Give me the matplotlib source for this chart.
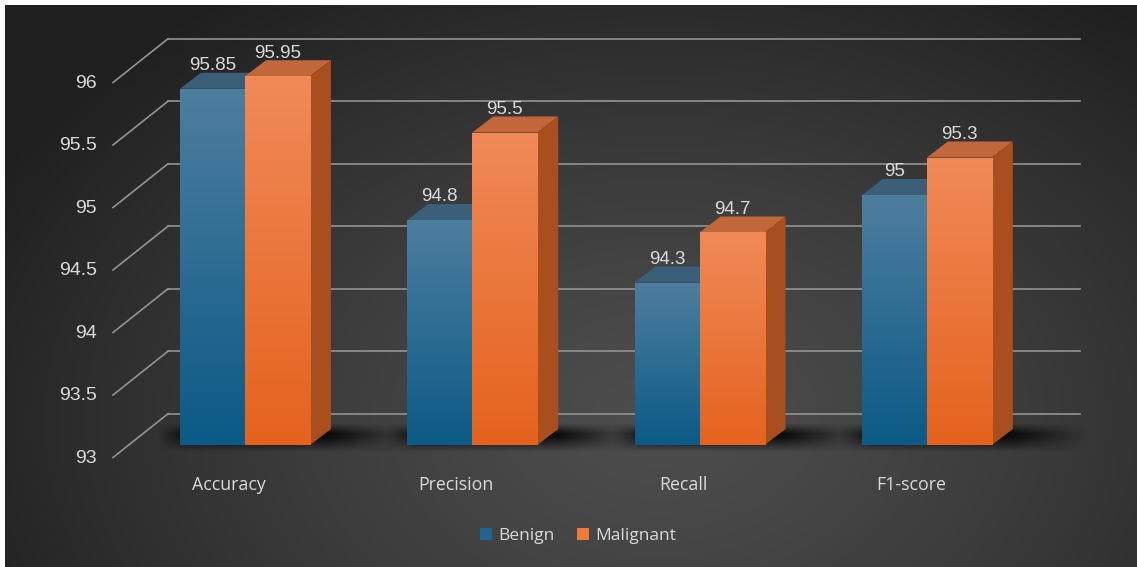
import numpy as np
import matplotlib
matplotlib.use("Agg")
import matplotlib.pyplot as plt
from matplotlib.patches import Polygon, Patch, Rectangle

# ---------------- data ----------------
categories = ["Accuracy", "Precision", "Recall", "F1-score"]
benign = [95.85, 94.8, 94.3, 95.0]
malignant = [95.95, 95.5, 94.7, 95.3]
benign_labels = ["95.85", "94.8", "94.3", "95"]
malignant_labels = ["95.95", "95.5", "94.7", "95.3"]
yticks = [93, 93.5, 94, 94.5, 95, 95.5, 96]
series_names = ["Benign", "Malignant"]

# ---------------- style ----------------
W, H, DPI = 1137, 567, 100
BASE = 93.0
bar_w = 0.286
dx, dy = 0.092, 0.128          # 3D depth offset of bars (data units)
wall_dy = 0.25                 # back wall offset
floor_dx, floor_dy = -0.242, -0.35
txt = "#dadada"
grid_c = "#939393"

blue_top, blue_bot = np.array([78, 126, 158]) / 255, np.array([11, 90, 135]) / 255
org_top, org_bot = np.array([240, 138, 88]) / 255, np.array([229, 98, 30]) / 255
blue_cap, org_cap = "#3b5f79", "#c2663b"
org_side = "#a94f1f"

fig = plt.figure(figsize=(W / DPI, H / DPI), dpi=DPI)
fig.patch.set_facecolor("#2b2b2b")

# background radial gradient
bg = fig.add_axes([0, 0, 1, 1])
yy, xx = np.mgrid[0:H, 0:W]
d = np.sqrt(((xx - 660) / 760.0) ** 2 + ((yy - 420) / 520.0) ** 2)
d = np.clip(d, 0, 1) ** 1.3
lum = (0x4d - (0x4d - 0x1f) * d) / 255.0
img = np.dstack([lum, lum, lum])
bg.imshow(img, extent=[0, W, H, 0], aspect="auto", interpolation="nearest")
bg.set_xlim(0, W)
bg.set_ylim(H, 0)
bg.set_axis_off()
# white border top and left
fig.patches.append(Rectangle((0, 1 - 5 / H), 1, 5 / H, transform=fig.transFigure,
                             facecolor="white", edgecolor="none", zorder=100))
fig.patches.append(Rectangle((0, 0), 5 / W, 1, transform=fig.transFigure,
                             facecolor="white", edgecolor="none", zorder=100))

ax = fig.add_axes([0, 0, 1, 1])
ax.patch.set_alpha(0)
x_left = -245 / 227.3
x_right = (W - 245) / 227.3
ax.set_xlim(x_left, x_right)
ax.set_ylim(BASE - (H - 445) / 125.0, BASE + 445 / 125.0)
ax.set_axis_off()

x = np.arange(len(categories))
wall_x0, wall_x1 = (168 - 245) / 227.3, (1080 - 245) / 227.3

# back wall gridlines + floor diagonals + tick labels
for v in yticks:
    yb = v + wall_dy
    ax.plot([wall_x0, wall_x1], [yb, yb], color=grid_c, lw=1.2, zorder=1)
    ax.plot([wall_x0, wall_x0 + floor_dx], [yb, yb + floor_dy], color=grid_c, lw=1.2, zorder=1)
    lab = f"{v:g}"
    ax.text(wall_x0 + floor_dx - 0.072, yb + floor_dy - 0.005, lab, ha="right", va="center",
            color=txt, fontsize=14, family="Liberation Sans", zorder=5)

# floor shadows
for xi in x:
    nx, ny = 200, 60
    sx = np.linspace(0, 1, nx)
    sy = np.linspace(0, 1, ny)
    ax_prof = np.clip(np.minimum(sx / 0.12, (1 - sx) / 0.3), 0, 1)
    ay_prof = np.clip(np.minimum(sy / 0.5, (1 - sy) / 0.35), 0, 1)
    a = np.outer(ay_prof, ax_prof) * 0.8
    sh = np.zeros((ny, nx, 4))
    sh[..., 3] = a
    ax.imshow(sh, extent=[xi - bar_w - 0.1, xi + bar_w + 0.42, BASE - 0.06, BASE + 0.17],
              origin="lower", aspect="auto", zorder=2, interpolation="bilinear")


def grad_fill(patch, c_top, c_bot, z):
    x0, y0 = patch.get_x(), patch.get_y()
    w, h = patch.get_width(), patch.get_height()
    t = np.linspace(0, 1, 256)[:, None]
    cols = c_bot[None, :] * (1 - t) + c_top[None, :] * t
    g = np.repeat(cols[:, None, :], 2, axis=1)
    im = ax.imshow(g, extent=[x0, x0 + w, y0, y0 + h], origin="lower",
                   aspect="auto", zorder=z, interpolation="bilinear")
    im.set_clip_path(patch)


# bars
bars_b = ax.bar(x - bar_w / 2, np.array(benign) - BASE, bottom=BASE, width=bar_w,
                color=blue_bot, zorder=3, linewidth=0)
bars_m = ax.bar(x + bar_w / 2, np.array(malignant) - BASE, bottom=BASE, width=bar_w,
                color=org_bot, zorder=6, linewidth=0)

for bars, ctop, cbot, cap, z, labels in [
    (bars_b, blue_top, blue_bot, blue_cap, 3, benign_labels),
    (bars_m, org_top, org_bot, org_cap, 6, malignant_labels),
]:
    for p, lab in zip(bars, labels):
        grad_fill(p, ctop, cbot, z + 0.1)
        x0, w = p.get_x(), p.get_width()
        top = p.get_y() + p.get_height()
        ax.add_patch(Polygon([(x0, top), (x0 + w, top), (x0 + w + dx, top + dy), (x0 + dx, top + dy)],
                             closed=True, facecolor=cap, edgecolor="none", zorder=z - 0.5))
        ax.add_patch(Polygon([(x0 + w, BASE), (x0 + w, top), (x0 + w + dx, top + dy), (x0 + w + dx, BASE + dy)],
                             closed=True, facecolor=org_side if z > 4 else "#0e4a6c",
                             edgecolor="none", zorder=z - 0.5))
        ax.text(x0 + w / 2, top + dy - 0.01, lab, ha="center", va="bottom",
                color=txt, fontsize=13.5, family="Liberation Sans", zorder=10)

# category labels
for xi, c in zip(x, categories):
    ax.text(xi - 0.07, BASE - 0.32, c, ha="center", va="center", color=txt,
            fontsize=12.8, family="Open Sans", zorder=10)

# legend
handles = [Patch(facecolor=tuple(blue_bot * 0.7 + blue_top * 0.3)),
           Patch(facecolor="#ee7a3a")]
leg = ax.legend(handles, series_names, loc="center", bbox_to_anchor=(578 / W, 1 - 536 / H),
                bbox_transform=fig.transFigure, ncol=2, frameon=False,
                handlelength=0.7, handleheight=0.7, handletextpad=0.35, columnspacing=1.3,
                prop={"family": "Open Sans", "size": 12.5})
for t in leg.get_texts():
    t.set_color(txt)

fig.savefig("out.png", dpi=DPI)
